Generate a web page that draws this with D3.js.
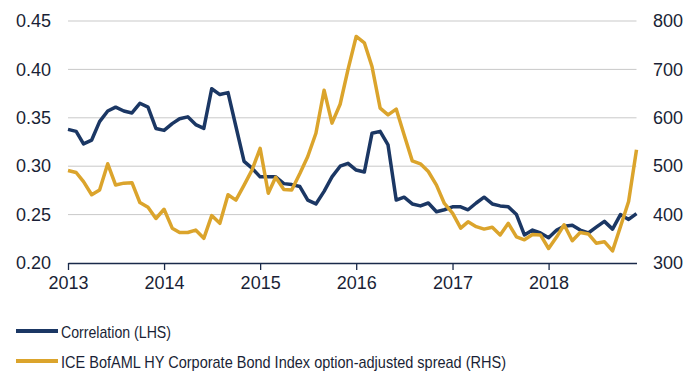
<!DOCTYPE html>
<html>
<head>
<meta charset="utf-8">
<script src="https://cdn.jsdelivr.net/npm/d3@7"></script>
<style>
  body { margin: 0; background: #fff; }
  svg text { font-family: "Liberation Sans", Arial, sans-serif; fill: #1a1f36; }
</style>
</head>
<body>
<div id="chart"></div>
<script>
const months = d3.timeMonth.range(new Date(2013, 0, 1), new Date(2019, 0, 1));

const correlation = [
  0.338, 0.336, 0.323, 0.327, 0.346, 0.357, 0.361, 0.357, 0.355, 0.365, 0.361, 0.339,
  0.337, 0.344, 0.349, 0.351, 0.343, 0.339, 0.380, 0.374, 0.376, 0.341, 0.305, 0.298,
  0.289, 0.289, 0.289, 0.282, 0.281, 0.279, 0.265, 0.261, 0.274, 0.289, 0.300, 0.303,
  0.296, 0.294, 0.334, 0.336, 0.322, 0.265, 0.268, 0.261, 0.259, 0.262, 0.253, 0.255,
  0.258, 0.258, 0.255, 0.262, 0.268, 0.261, 0.259, 0.258, 0.250, 0.229, 0.234, 0.231,
  0.226, 0.234, 0.238, 0.239, 0.234, 0.231, 0.237, 0.243, 0.235, 0.250, 0.245, 0.251
];

const spread = [
  491, 487, 468, 441, 451, 505, 461, 465, 466, 425, 415, 392,
  411, 372, 363, 363, 368, 351, 398, 382, 441, 430, 461, 492,
  537, 444, 477, 452, 451, 485, 520, 568, 657, 589, 628, 700,
  768, 755, 706, 620, 606, 618, 565, 511, 505, 489, 461, 423,
  403, 372, 385, 375, 370, 374, 358, 382, 354, 348, 359, 358,
  330, 354, 379, 346, 363, 360, 341, 344, 325, 375, 427, 534
];

const leftTicks = [0.20, 0.25, 0.30, 0.35, 0.40, 0.45];
const rightTicks = [300, 400, 500, 600, 700, 800];
const yearTicks = [2013, 2014, 2015, 2016, 2017, 2018];

const legendItems = [
  {label: "Correlation (LHS)", color: "#1b3764", width: 110},
  {label: "ICE BofAML HY Corporate Bond Index option-adjusted spread (RHS)", color: "#dba42c", width: 445}
];

const width = 700, height = 383;
const plot = {left: 68, right: 636.5, top: 21, bottom: 263};

const svg = d3.select("#chart").append("svg")
  .attr("width", width)
  .attr("height", height);

const x = d3.scaleTime()
  .domain([new Date(2013, 0, 1), new Date(2018, 11, 1)])
  .range([plot.left, plot.right]);

const yLeft = d3.scaleLinear().domain([0.20, 0.45]).range([plot.bottom, plot.top]);
const yRight = d3.scaleLinear().domain([300, 800]).range([plot.bottom, plot.top]);

// gridlines
svg.append("g")
  .selectAll("line")
  .data(leftTicks.slice(1))
  .enter()
  .append("line")
  .attr("x1", plot.left)
  .attr("x2", plot.right)
  .attr("y1", d => yLeft(d))
  .attr("y2", d => yLeft(d))
  .attr("stroke", "#c9c9c9")
  .attr("stroke-width", 1);

// left axis labels
svg.append("g")
  .call(d3.axisLeft(yLeft).tickValues(leftTicks).tickFormat(d3.format(".2f")).tickSize(0).tickPadding(0))
  .attr("transform", `translate(51,0)`)
  .call(g => g.select(".domain").remove())
  .selectAll("text")
  .style("font-size", "18px")
  .attr("fill", "#1a1f36");

// right axis labels
svg.append("g")
  .call(d3.axisRight(yRight).tickValues(rightTicks).tickSize(0).tickPadding(0))
  .attr("transform", `translate(653,0)`)
  .call(g => g.select(".domain").remove())
  .selectAll("text")
  .style("font-size", "18px")
  .attr("fill", "#1a1f36");

// bottom axis
const xAxis = svg.append("g")
  .attr("transform", `translate(0,${plot.bottom})`)
  .call(d3.axisBottom(x)
    .tickValues(yearTicks.map(yr => new Date(yr, 0, 1)))
    .tickFormat(d3.timeFormat("%Y"))
    .tickSize(7)
    .tickSizeOuter(0)
    .tickPadding(6));
xAxis.select(".domain").attr("stroke", "#1a2a4a").attr("stroke-width", 1.3);
xAxis.selectAll(".tick line").attr("stroke", "#1a2a4a").attr("stroke-width", 1.3);
xAxis.selectAll("text").style("font-size", "18px").attr("fill", "#1a1f36");

// lines
const corrLine = d3.line()
  .x((d, i) => x(months[i]))
  .y(d => yLeft(d));

const spreadLine = d3.line()
  .x((d, i) => x(months[i]))
  .y(d => yRight(d));

svg.append("path")
  .datum(correlation)
  .attr("d", corrLine)
  .attr("fill", "none")
  .attr("stroke", legendItems[0].color)
  .attr("stroke-width", 3.5)
  .attr("stroke-linejoin", "round");

svg.append("path")
  .datum(spread)
  .attr("d", spreadLine)
  .attr("fill", "none")
  .attr("stroke", legendItems[1].color)
  .attr("stroke-width", 3.5)
  .attr("stroke-linejoin", "round");

// legend
const legend = svg.append("g")
  .selectAll("g")
  .data(legendItems)
  .enter()
  .append("g")
  .attr("transform", (d, i) => `translate(0,${331 + i * 30})`);

legend.append("line")
  .attr("x1", 16)
  .attr("x2", 58)
  .attr("stroke", d => d.color)
  .attr("stroke-width", 4);

legend.append("text")
  .attr("x", 61)
  .attr("y", 6.5)
  .attr("textLength", d => d.width)
  .attr("lengthAdjust", "spacingAndGlyphs")
  .style("font-size", "17px")
  .text(d => d.label);
</script>
</body>
</html>
